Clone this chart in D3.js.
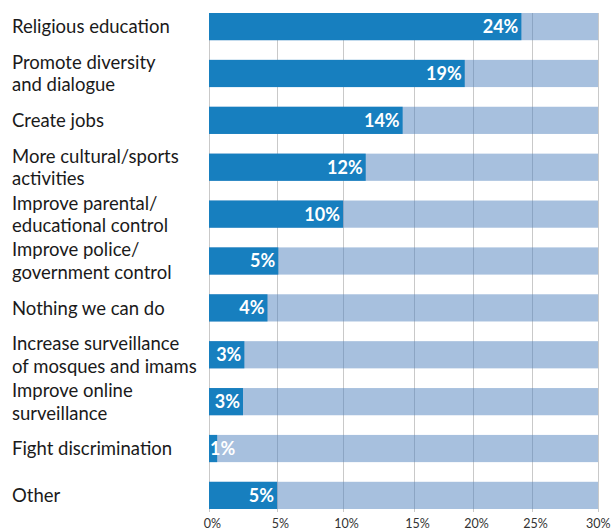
<!DOCTYPE html>
<html>
<head>
<meta charset="utf-8">
<script src="https://cdn.jsdelivr.net/npm/d3@7"></script>
<style>
  html, body { margin: 0; padding: 0; background: #fff; }
  svg { display: block; }
</style>
</head>
<body>
<svg id="chart" width="611" height="531"></svg>
<script>
// Answers (share of respondents, %), top to bottom
const categories = [
  "Religious education",
  "Promote diversity\nand dialogue",
  "Create jobs",
  "More cultural/sports\nactivities",
  "Improve parental/\neducational control",
  "Improve police/\ngovernment control",
  "Nothing we can do",
  "Increase surveillance\nof mosques and imams",
  "Improve online\nsurveillance",
  "Fight discrimination",
  "Other"
];
const values = [24.1, 19.3, 14.2, 11.6, 10.0, 5.1, 4.3, 2.6, 2.5, 0.6, 5.0];
const axisMax = 30;
const tickValues = [0, 5, 10, 15, 20, 25, 30];
const tickLabels = ["0%", "5%", "10%", "15%", "20%", "25%", "30%"];

const W = 611, H = 531;
const svg = d3.select("#chart");

// horizontal scale: the printed axis spacing is slightly uneven, so map each tick step
const x = d3.scaleLinear()
  .domain(tickValues)
  .range([209, 277, 343, 414, 473, 532, 598]);

const y = d3.scaleBand()
  .domain(categories)
  .range([13, 509])
  .paddingInner(0.42)
  .paddingOuter(0);

// vertical gridlines
svg.append("g")
  .selectAll("line")
  .data(tickValues)
  .join("line")
  .attr("x1", d => x(d) + 0.5)
  .attr("x2", d => x(d) + 0.5)
  .attr("y1", 13)
  .attr("y2", 512)
  .attr("stroke", "#c9c9c9")
  .attr("stroke-width", 1);

// full-scale background bars (translucent, gridlines show through)
svg.append("g")
  .selectAll("rect")
  .data(categories)
  .join("rect")
  .attr("x", x(0))
  .attr("y", d => y(d))
  .attr("width", x(axisMax) - x(0))
  .attr("height", y.bandwidth())
  .attr("fill", "#4f81bd")
  .attr("fill-opacity", 0.5);

// value bars
svg.append("g")
  .selectAll("rect")
  .data(values)
  .join("rect")
  .attr("x", x(0))
  .attr("y", (d, i) => y(categories[i]))
  .attr("width", d => x(d) - x(0))
  .attr("height", y.bandwidth())
  .attr("fill", "#177fbf");

// value labels inside the bars
const fmt = v => Math.round(v) + "%";
const vl = svg.append("g")
  .selectAll("text")
  .data(values)
  .join("text")
  .attr("y", (d, i) => y(categories[i]) + y.bandwidth() / 2)
  .attr("dy", "0.36em")
  .attr("text-anchor", "end")
  .attr("fill", "#ffffff")
  .style("font-family", "Lato, 'Open Sans', sans-serif")
  .style("font-weight", "700")
  .style("font-size", "18px")
  .text(fmt);
vl.each(function(d) {
  const w = this.getComputedTextLength();
  d3.select(this).attr("x", Math.max(x(d) - 3, x(0) + 1 + w));
});

// category labels (one or two lines, centred on the bar)
const lineH = 22.5;
const cl = svg.append("g")
  .selectAll("text")
  .data(categories)
  .join("text")
  .attr("x", 12)
  .attr("fill", "#1a1a1a")
  .style("font-family", "Lato, 'Open Sans', sans-serif")
  .style("font-size", "18.5px");
cl.each(function(d) {
  const lines = d.split("\n");
  const cy = y(d) + y.bandwidth() / 2;
  const t = d3.select(this);
  lines.forEach((ln, j) => {
    t.append("tspan")
      .attr("x", 12)
      .attr("y", cy + (j - (lines.length - 1) / 2) * lineH)
      .attr("dy", "0.36em")
      .text(ln);
  });
});

// bottom axis
const axis = d3.axisBottom(x)
  .tickValues(tickValues)
  .tickFormat((d, i) => tickLabels[i])
  .tickSize(0)
  .tickPadding(10);
const ag = svg.append("g")
  .attr("transform", "translate(3,509)")
  .call(axis);
ag.select(".domain").remove();
ag.selectAll("text")
  .attr("fill", "#333333")
  .style("font-family", "Lato, 'Open Sans', sans-serif")
  .style("font-size", "12.5px");
// keep the last tick label inside the frame
ag.selectAll(".tick:last-of-type text")
  .attr("text-anchor", "end")
  .attr("x", W - 1 - x(axisMax) - 3);
</script>
</body>
</html>
